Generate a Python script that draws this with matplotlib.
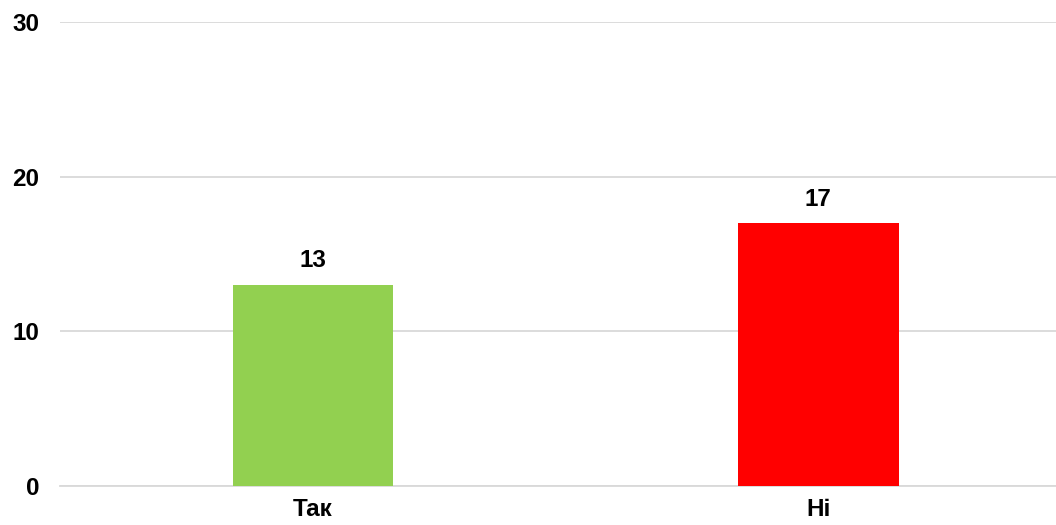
import matplotlib.pyplot as plt

categories = ['Так', 'Ні']
values = [13, 17]
colors = ['#92D050', '#FF0000']
yticks = [0, 10, 20, 30]

plt.rcParams['font.family'] = ['Liberation Sans', 'DejaVu Sans']
plt.rcParams['font.weight'] = 'bold'

fig = plt.figure(figsize=(10.56, 5.25), dpi=100)
ax = fig.add_axes([60 / 1056, 39 / 525, 1 - 60 / 1056, 464 / 525])

x = range(len(categories))
bars = ax.bar(x, values, width=0.317, color=colors, zorder=3)

for b, v in zip(bars, values):
    ax.annotate(str(v), (b.get_x() + b.get_width() / 2, v),
                xytext=(0, 9), textcoords='offset points',
                ha='center', va='bottom', fontsize=17.5, fontweight='bold')

ax.set_xlim(-0.5, 1.47)
ax.set_ylim(0, 30)
ax.set_yticks(yticks)
ax.set_xticks(list(x))
ax.set_xticklabels(categories, fontsize=17.5, fontweight='bold')
ax.tick_params(axis='y', labelsize=17.5, length=0, pad=15)
ax.tick_params(axis='x', length=0, pad=9)

ax.grid(axis='y', color='#D9D9D9', linewidth=1.3, zorder=0)
for s in ['top', 'right', 'left']:
    ax.spines[s].set_visible(False)
ax.spines['bottom'].set_color('#D9D9D9')
ax.spines['bottom'].set_linewidth(1.3)

fig.savefig('out.png', dpi=100)
